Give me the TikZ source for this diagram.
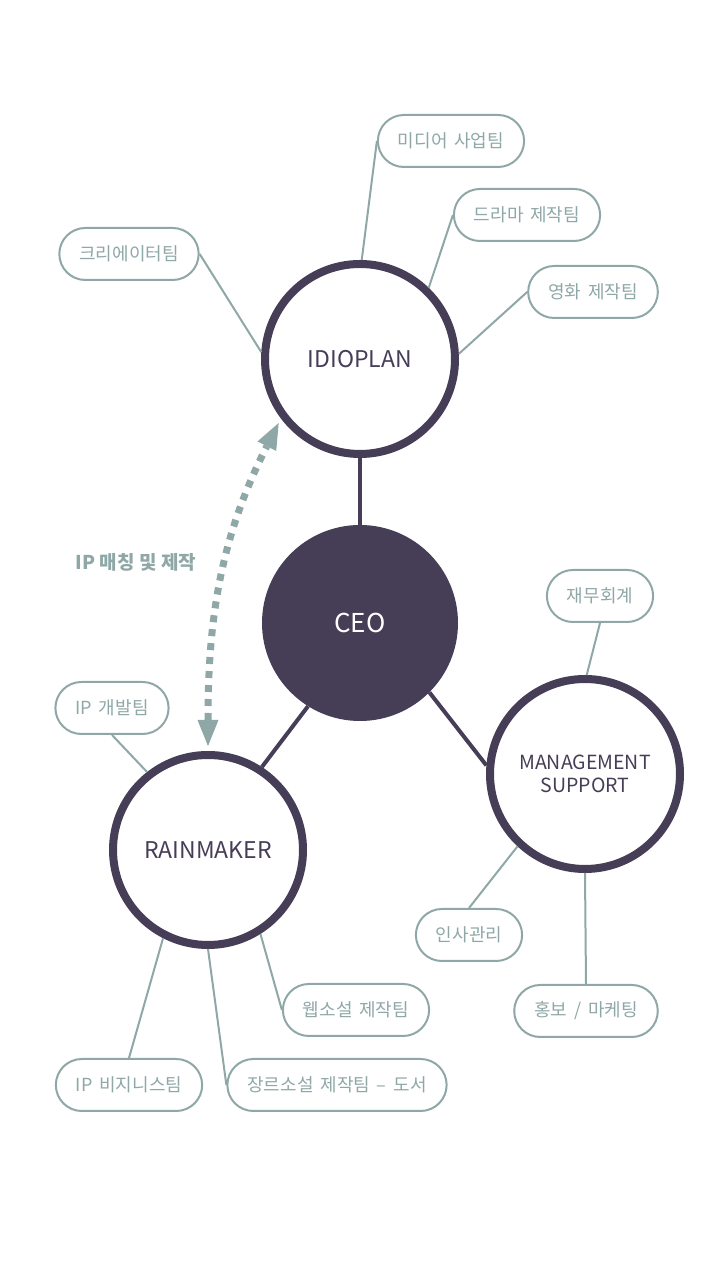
\documentclass[tikz,border=0pt]{standalone}
\usepackage{fontspec}
\setmainfont{Noto Sans CJK KR}
\newfontfamily\teamfont{Noto Sans CJK KR}[WordSpace=1.7]
\usepackage{tikz}
\usetikzlibrary{arrows.meta,positioning}
\definecolor{plum}{RGB}{70,61,87}
\definecolor{sage}{RGB}{143,168,167}

\begin{document}
\begin{tikzpicture}[
  x=1pt,y=1pt,
  hub/.style={circle,draw=plum,line width=8pt,fill=white,minimum size=190pt,inner sep=0pt,text=plum,align=center,font=\fontsize{23}{26}\selectfont},
  team/.style={rectangle,rounded corners=26pt,draw=sage,line width=2pt,minimum height=52pt,inner xsep=20pt,text=sage,font=\teamfont\fontsize{18}{21}\selectfont},
  l/.style={draw=sage,line width=2pt},
  k/.style={draw=plum,line width=4pt}
]
\useasboundingbox[fill=white] (0,0) rectangle (720,1280);

% hubs
\node[circle,fill=plum,minimum size=196pt,inner sep=0pt,text=white,font=\fontsize{26}{29}\selectfont] (ceo) at (360,657) {CEO};
\node[hub] (idio) at (360,921) {IDIOPLAN};
\node[hub] (rain) at (208,430) {RAINMAKER};
\node[hub,font=\fontsize{19.5}{23}\selectfont] (mgmt) at (585,506) {MANAGEMENT\\SUPPORT};

% teams
\node[team] (media) at (451,1139) {미디어 사업팀};
\node[team] (drama) at (527,1065) {드라마 제작팀};
\node[team] (movie) at (593,988) {영화 제작팀};
\node[team] (creator) at (129,1026) {크리에이터팀};
\node[team] (finance) at (600,684) {재무회계};
\node[team] (hr) at (469,345) {인사관리};
\node[team] (pr) at (586,269) {홍보 / 마케팅};
\node[team] (ipdev) at (112,572) {IP 개발팀};
\node[team] (web) at (356,270) {웹소설 제작팀};
\node[team] (ipbiz) at (129,195) {IP 비지니스팀};
\node[team] (genre) at (337,195) {장르소설 제작팀 – 도서};

\node[text=sage,font=\fontsize{19}{22}\selectfont\bfseries] (match) at (136,718) {IP 매칭 및 제작};

% links
\draw[k] (ceo) -- (idio);
\draw[k] (ceo.238) -- (rain.57);
\draw[k] (ceo.-45) -- (mgmt.175);

\draw[l] (media.west) -- (idio.89);
\draw[l] (drama.west) -- (idio.46);
\draw[l] (movie.west) -- (idio.3);
\draw[l] (creator.east) -- (idio.176);
\draw[l] (finance.south) -- (mgmt.89);
\draw[l] (hr.north) -- (mgmt.227);
\draw[l] (pr.north) -- (mgmt.south);
\draw[l] (ipdev.south) -- (rain.128);
\draw[l] (ipbiz.north) -- (rain.243);
\draw[l] (genre.west) -- (rain.270);
\draw[l] (web.west) -- (rain.302);

\draw[sage,line width=7pt,dash pattern=on 7pt off 7pt,
  {Triangle[length=26pt,width=21pt,line width=0pt]}-{Triangle[length=26pt,width=21pt,line width=0pt]},
  shorten <=5pt,shorten >=5pt] (rain.north) to[out=90,in=243] (idio.217);
\end{tikzpicture}
\end{document}
